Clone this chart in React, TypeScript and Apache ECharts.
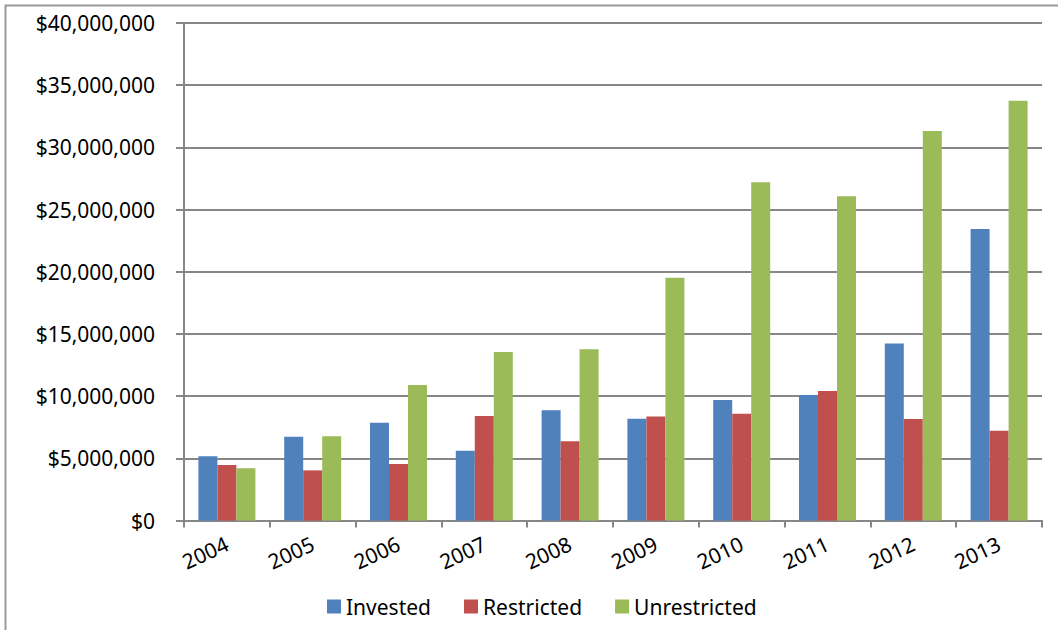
import React, { useEffect, useRef } from "react";
import * as echarts from "echarts";

const years = ["2004", "2005", "2006", "2007", "2008", "2009", "2010", "2011", "2012", "2013"];
const invested = [5160000, 6740000, 7860000, 5610000, 8860000, 8180000, 9690000, 10090000, 14240000, 23430000];
const restricted = [4460000, 4030000, 4540000, 8400000, 6370000, 8370000, 8590000, 10410000, 8160000, 7220000];
const unrestricted = [4200000, 6770000, 10900000, 13550000, 13760000, 19520000, 27190000, 26080000, 31310000, 33750000];
const seriesNames = ["Invested", "Restricted", "Unrestricted"];
const colors = ["#4F81BD", "#C0504D", "#9BBB59"];

const FONT = "Noto Sans";

export default function App() {
  const ref = useRef<HTMLDivElement>(null);
  useEffect(() => {
    document.body.style.margin = "0";
    const chart = echarts.init(ref.current!, null, { renderer: "svg" });
    const data = [invested, restricted, unrestricted];
    chart.setOption({
      animation: false,
      backgroundColor: "#ffffff",
      textStyle: { fontFamily: FONT },
      graphic: [
        {
          type: "rect",
          shape: { x: 5.5, y: 5.5, width: 1200, height: 800 },
          style: { fill: "none", stroke: "#999999", lineWidth: 2 },
          silent: true,
        },
      ],
      grid: { left: 184, right: 16, top: 23, bottom: 109.5, containLabel: false },
      legend: {
        data: seriesNames,
        left: 322,
        top: 591,
        icon: "rect",
        itemWidth: 14,
        itemHeight: 14,
        itemGap: 33,
        textStyle: { fontSize: 21, color: "#000", fontFamily: FONT },
      },
      xAxis: {
        type: "category",
        data: years,
        axisLine: { lineStyle: { color: "#868686", width: 2 } },
        axisTick: { show: true, length: 7, lineStyle: { color: "#868686", width: 2 } },
        axisLabel: { rotate: 25, fontSize: 21, color: "#000", margin: 22, fontFamily: FONT },
      },
      yAxis: {
        type: "value",
        min: 0,
        max: 40000000,
        interval: 5000000,
        axisLine: { show: true, lineStyle: { color: "#868686", width: 2 } },
        axisTick: { show: true, length: 8, lineStyle: { color: "#868686", width: 2 } },
        splitLine: { lineStyle: { color: "#868686", width: 2 } },
        axisLabel: {
          fontSize: 21,
          color: "#000",
          margin: 29,
          fontFamily: FONT,
          formatter: (v: number) => "$" + v.toLocaleString("en-US"),
        },
      },
      series: seriesNames.map((name, i) => ({
        name,
        type: "bar",
        data: data[i],
        barWidth: 19,
        barGap: "0%",
        itemStyle: { color: colors[i] },
      })),
    });
    return () => chart.dispose();
  }, []);
  return <div ref={ref} style={{ width: 1058, height: 630 }} />;
}
